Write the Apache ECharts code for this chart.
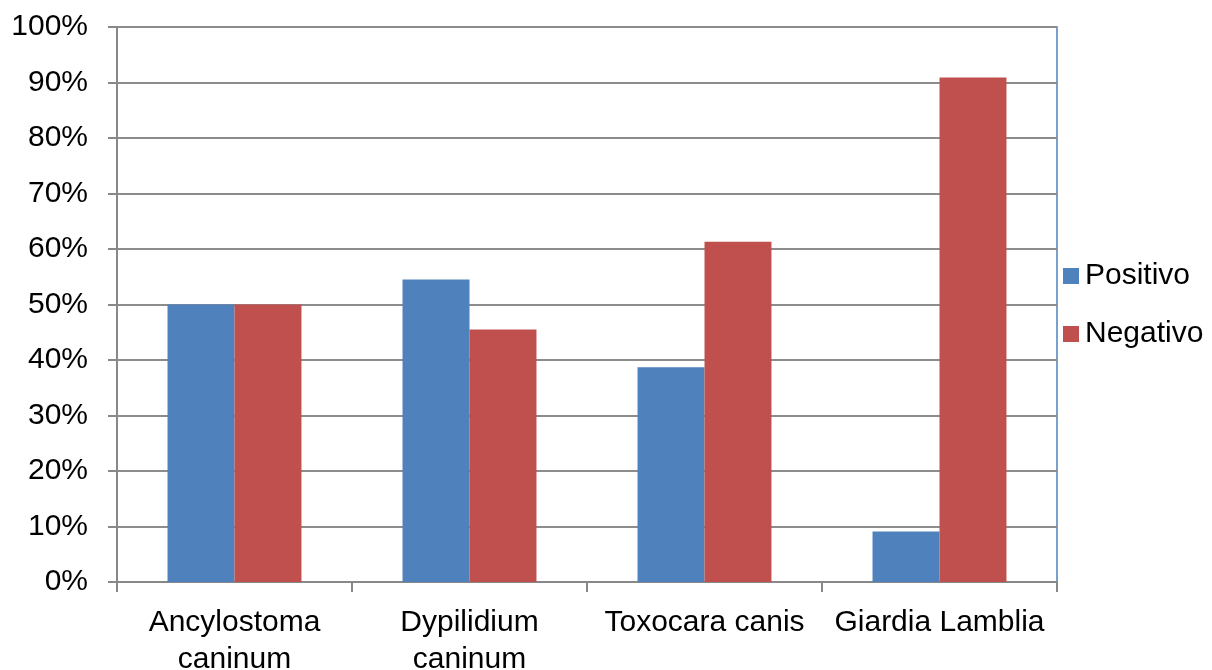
<!DOCTYPE html>
<html>
<head>
<meta charset="utf-8">
<script src="https://cdn.jsdelivr.net/npm/echarts@6/dist/echarts.min.js"></script>
<style>
  html, body { margin: 0; padding: 0; background: #fff; }
  #chart { width: 1212px; height: 670px; }
</style>
</head>
<body>
<div id="chart"></div>
<script>
// Parasite test results per species (percentage of samples)
const categories = ['Ancylostoma\ncaninum', 'Dypilidium\ncaninum', 'Toxocara canis', 'Giardia Lamblia'];
const positivo = [50, 54.5, 38.7, 9.1];
const negativo = [50, 45.5, 61.3, 90.9];
const seriesNames = ['Positivo', 'Negativo'];

const FONT = 'Liberation Sans, Arial, sans-serif';
const chart = echarts.init(document.getElementById('chart'), null, { renderer: 'canvas' });

chart.setOption({
  animation: false,
  backgroundColor: '#ffffff',
  textStyle: { fontFamily: FONT },
  grid: {
    left: 117, top: 27, right: 155, bottom: 88,
    outerBoundsMode: 'none',
    containLabel: false,
    show: true, borderColor: '#4F81BD', borderWidth: 1.5
  },
  legend: {
    orient: 'vertical',
    left: 1058, top: 256,
    itemWidth: 16, itemHeight: 16,
    itemGap: 28,
    icon: 'rect',
    textStyle: { fontSize: 30, color: '#000', fontFamily: FONT, padding: [0, 0, 0, 1] },
    data: seriesNames
  },
  xAxis: {
    type: 'category',
    data: categories,
    axisLine: { lineStyle: { color: '#888888', width: 2 } },
    axisTick: { show: true, length: 10, lineStyle: { color: '#888888', width: 2 } },
    axisLabel: {
      color: '#000', fontSize: 30, fontFamily: FONT,
      lineHeight: 37, margin: 22, interval: 0
    }
  },
  yAxis: {
    type: 'value',
    min: 0, max: 100, interval: 10,
    axisLine: { show: true, lineStyle: { color: '#888888', width: 2 } },
    axisTick: { show: true, length: 9, lineStyle: { color: '#888888', width: 2 } },
    splitLine: { lineStyle: { color: '#8c8c8c', width: 2 } },
    axisLabel: {
      color: '#000', fontSize: 30, fontFamily: FONT, margin: 29,
      formatter: '{value}%'
    }
  },
  series: [
    {
      name: seriesNames[0], type: 'bar', data: positivo,
      barGap: '0%', barCategoryGap: '43%',
      itemStyle: { color: '#4F81BD' }
    },
    {
      name: seriesNames[1], type: 'bar', data: negativo,
      itemStyle: { color: '#C0504D' }
    }
  ]
});
</script>
</body>
</html>
